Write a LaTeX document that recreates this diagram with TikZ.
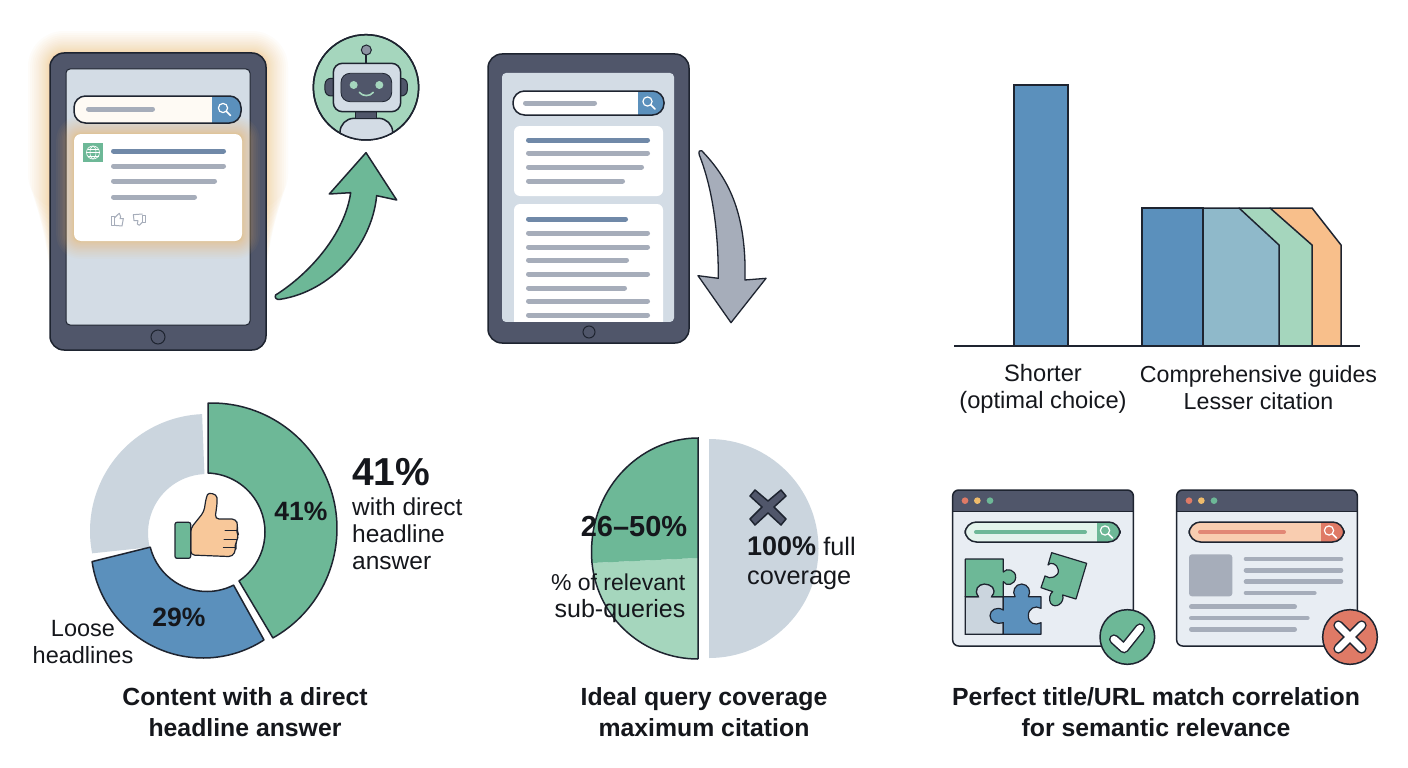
\documentclass[tikz,border=0pt]{standalone}
\usepackage{fontspec}
\setmainfont{Liberation Sans}
\usetikzlibrary{calc}
\definecolor{bezel}{HTML}{50566A}
\definecolor{ink}{HTML}{1E2430}
\definecolor{screen}{HTML}{D3DCE5}
\definecolor{lgrey}{HTML}{A6ADBA}
\definecolor{lblue}{HTML}{7089A8}
\definecolor{mgreen}{HTML}{6DB897}
\definecolor{pgreen}{HTML}{A5D6BD}
\definecolor{mblue}{HTML}{5B90BC}
\definecolor{pblue}{HTML}{8FB9CA}
\definecolor{morange}{HTML}{F8BF8B}
\definecolor{halo}{HTML}{F5B660}
\definecolor{pale}{HTML}{CBD5DE}
\definecolor{skin}{HTML}{F8C89A}
\definecolor{winbg}{HTML}{E8EDF3}
\definecolor{mred}{HTML}{DF7A66}
\definecolor{lred}{HTML}{F9CDB0}
\definecolor{myel}{HTML}{EFBB6B}
\definecolor{mint}{HTML}{E3F3EC}
\definecolor{txt}{HTML}{15171C}
\tikzset{
  outl/.style={draw=ink,line width=1.5pt},
  gline/.style={line width=5pt,line cap=round,lgrey,shorten >=2.5pt,shorten <=2.5pt},
  bline/.style={line width=5pt,line cap=round,lblue,shorten >=2.5pt,shorten <=2.5pt},
  sline/.style={line width=1.2pt,white,line cap=round},
  lab/.style={text=txt,inner sep=0pt,align=center,font=\fontsize{23.5}{27}\selectfont},
  ttl/.style={text=txt,inner sep=0pt,align=center,font=\fontsize{24.8}{31}\selectfont\bfseries},
  big/.style={text=txt,inner sep=0pt,font=\fontsize{29}{33}\selectfont\bfseries},
  searchicon/.pic={\draw[sline] (-1.5,-1.5) circle (4.6); \draw[sline,line width=1.6pt] (1.8,1.8) -- (6,6);}
}
\newcommand\pillbar[7]{% x1 y1 x2 y2 xb fill btn
  \fill[#6,rounded corners=11.5pt] (#1,#2) rectangle (#3,#4);
  \begin{scope}
    \clip[rounded corners=11.5pt] (#1,#2) rectangle (#3,#4);
    \fill[#7] (#5,#2) rectangle (#3,#4);
  \end{scope}
  \draw[outl,rounded corners=11.5pt] (#1,#2) rectangle (#3,#4);
  \pic at ({#5+(#3-#5)/2-2},{(#2+#4)/2}) {searchicon};
}
\begin{document}
\begin{tikzpicture}[x=1pt,y=-1pt]
\useasboundingbox (0,0) rectangle (1408,768);
\fill[white] (0,0) rectangle (1408,768);

%% ---------- tablet 1 with glow
\foreach \g in {1,...,20}{
  \pgfmathsetmacro\off{\g*\g*0.055}
  \pgfmathsetmacro\low{300-\g*4.5}
  \fill[halo,opacity=0.035,rounded corners={(14+\off)*1pt}]
    ({50-\off},{53-\off}) rectangle ({266+\off},{\low});
}
\node[fill=bezel,draw=ink,line width=1.5pt,rounded corners=14pt,minimum width=216pt,minimum height=297pt,inner sep=0pt] (tabA) at (158,201.5) {};
\fill[screen,draw=ink,line width=1pt,rounded corners=4pt] (66,69) rectangle (250,325);
\fill[bezel,draw=ink,line width=1pt] (158,337) circle (7);
\foreach \g in {1,...,18}{
  \pgfmathsetmacro\off{\g*\g*0.055}
  \fill[halo,opacity=0.045,rounded corners={(6+\off)*1pt}]
    ({74-\off},{134-\off}) rectangle ({242+\off},{241+\off});
}
\pillbar{74}{96}{241}{123}{212}{white!88!halo!60!white}{mblue}
\draw[gline] (86,109) -- (155,109);
\node[fill=white,rounded corners=7pt,minimum width=168pt,minimum height=107pt,inner sep=0pt] (cardA) at (158,187.5) {};
\fill[mgreen] (83,143) rectangle (103,162);
\begin{scope}[white,line width=.6pt]
  \draw (93,152.5) circle (6.5);
  \draw (93,152.5) ellipse (3 and 6.5);
  \draw (86.5,152.5) -- (99.5,152.5);
  \draw (87.5,149) -- (98.5,149) (87.5,156) -- (98.5,156);
\end{scope}
\draw[bline] (111,151) -- (226,151);
\draw[gline] (111,166) -- (226,166);
\draw[gline] (111,181) -- (217,181);
\draw[gline] (111,197) -- (197,197);
\begin{scope}[shift={(30,20)},scale=1/3]
  \draw[lgrey,line width=1pt,line join=round] (245,590) rectangle (253,616);
  \draw[lgrey,line width=1pt,line join=round] (253,594) -- (263,584) -- (268,580) -- (272,590) -- (270,596) -- (280,596) -- (276,618) -- (253,616);
  \draw[lgrey,line width=1pt,line join=round] (338,586) rectangle (346,608);
  \draw[lgrey,line width=1pt,line join=round] (338,606) -- (328,616) -- (322,612) -- (324,602) -- (312,602) -- (310,584) -- (338,582);
\end{scope}

%% ---------- green arrow and robot
\begin{scope}[shift={(30,20)},scale=1/3]
  \fill[mgreen,draw=ink,line width=1.5pt,line join=round]
    (737,825) .. controls (840,760) and (945,640) .. (962,518)
    -- (898,522) -- (1008,398) -- (1100,540) -- (1040,527)
    .. controls (1025,680) and (900,815) .. (750,838)
    .. controls (738,840) and (733,832) .. (737,825) -- cycle;
  \fill[pgreen,draw=ink,line width=1.5pt] (1008,202) circle (158);
  \begin{scope}
    \clip (1008,202) circle (157);
    \fill[screen,draw=ink,line width=1.5pt,rounded corners=14pt] (930,395) -- (930,295) -- (1088,295) -- (1088,395) -- cycle;
  \end{scope}
  \draw[ink,line width=1.5pt] (1008,202) circle (158);
  \fill[bezel,draw=ink,line width=1pt] (978,270) rectangle (1040,295);
  \fill[bezel,draw=ink,line width=1pt,rounded corners=6pt] (885,175) rectangle (935,228);
  \fill[bezel,draw=ink,line width=1pt,rounded corners=6pt] (1085,175) rectangle (1132,228);
  \draw[ink,line width=1.5pt] (1008,105) -- (1008,130);
  \fill[lgrey!70!bezel,draw=ink,line width=1pt] (1009,90) circle (15);
  \fill[screen,draw=ink,line width=1.5pt,rounded corners=9pt] (910,130) rectangle (1112,275);
  \fill[bezel,draw=ink,line width=.8pt,rounded corners=9pt] (933,160) rectangle (1085,245);
  \fill[pgreen] (971,195) circle (12);
  \fill[pgreen] (1048,195) circle (12);
  \draw[pgreen,line width=1.6pt,line cap=round] (988,217) .. controls (998,230) and (1020,230) .. (1030,217);
\end{scope}

%% ---------- tablet 2
\node[fill=bezel,draw=ink,line width=1.5pt,rounded corners=14pt,minimum width=201pt,minimum height=289pt,inner sep=0pt] (tabB) at (588.5,198.5) {};
\fill[screen,rounded corners=4pt] (502,73) rectangle (674,322);
\pillbar{513}{91}{664}{115}{638}{white}{mblue}
\draw[gline] (523,103) -- (597,103);
\node[fill=white,rounded corners=6pt,minimum width=149pt,minimum height=70pt,inner sep=0pt] (cardB) at (588.5,161) {};
\fill[white,rounded corners=6pt] (514,204) rectangle (663,330);
\fill[bezel] (500,322) rectangle (678,331);
\draw[bline] (526,140) -- (650,140);
\draw[gline] (526,153) -- (650,153);
\draw[gline] (526,167) -- (644,167);
\draw[gline] (526,181) -- (625,181);
\draw[bline] (526,219) -- (628,219);
\draw[gline] (526,233) -- (650,233);
\draw[gline] (526,247) -- (650,247);
\draw[gline] (526,260) -- (629,260);
\draw[gline] (526,274) -- (650,274);
\draw[gline] (526,288) -- (627,288);
\draw[gline] (526,301) -- (650,301);
\draw[gline] (526,315) -- (650,315);
\fill[bezel,draw=ink,line width=1pt] (589,332) circle (6);
\begin{scope}[shift={(470,40)},scale=1/3]
  \fill[lgrey,draw=ink,line width=1.3pt,line join=round]
    (695,332) .. controls (770,410) and (830,510) .. (825,720)
    -- (888,715) -- (783,848) -- (684,707) -- (745,715)
    .. controls (745,560) and (725,440) .. (688,345)
    .. controls (684,335) and (690,328) .. (695,332) -- cycle;
\end{scope}

%% ---------- bar chart
\fill[mblue,draw=ink,line width=1.5pt] (1014,346) -- (1014,85) -- (1068,85) -- (1068,346) -- cycle;
\fill[morange,draw=ink,line width=1.5pt,line join=round] (1270,346) -- (1270,208) -- (1312,208) -- (1341,245) -- (1341,346) -- cycle;
\fill[pgreen,draw=ink,line width=1.5pt,line join=round] (1239,346) -- (1239,208) -- (1270,208) -- (1312,245) -- (1312,346) -- cycle;
\fill[pblue,draw=ink,line width=1.5pt,line join=round] (1203,346) -- (1203,208) -- (1239,208) -- (1279,245) -- (1279,346) -- cycle;
\fill[mblue,draw=ink,line width=1.5pt] (1142,346) rectangle (1203,208);
\draw[ink,line width=1.5pt] (954,346) -- (1360,346);
\node[lab,font=\fontsize{23.7}{27}\selectfont] (lblShort) at (1043,389) {Shorter\\(optimal choice)};
\node[lab,font=\fontsize{23.2}{27}\selectfont] (lblLong) at (1258.5,388) {Comprehensive guides\\Lesser citation};

%% ---------- donut
\fill[pale] ([shift={(207,531)}]169:117) arc (169:267.6:117)
  -- ([shift={(207,533)}]-92.5:59) arc (-92.5:-194:59) -- cycle;
\fill[mgreen,draw=ink,line width=1.5pt,line join=round] ([shift={(211.5,528.5)}]-91.6:125.5) arc (-91.6:60.7:125.5)
  -- ([shift={(206,532)}]56:59) arc (56:-88:59) -- cycle;
\fill[mblue,draw=ink,line width=1.5pt,line join=round] ([shift={(203,546)}]172:112) arc (172:57:112)
  -- ([shift={(207,533)}]63:58.5) arc (63:166:58.5) -- cycle;
\begin{scope}[shift={(80,395)},scale=1/3]
  \fill[skin,draw=ink,line width=1.2pt,line join=round,rounded corners=4pt]
    (332,400) -- (372,350) -- (378,310) .. controls (385,292) and (410,295) .. (412,320)
    -- (405,372) -- (468,372) -- (474,392) -- (470,408) -- (476,420) -- (470,438) -- (466,450) -- (468,462) -- (458,485) -- (332,480) -- cycle;
  \draw[ink,line width=1pt,line cap=round] (470,405) -- (435,405) (470,432) -- (432,432) (464,458) -- (430,458);
  \fill[mgreen,draw=ink,line width=1.2pt,rounded corners=2pt] (285,382) rectangle (332,490);
\end{scope}
\node[big,font=\fontsize{26.5}{30}\selectfont\bfseries] (d41) at (301,511) {41\%};
\node[big,font=\fontsize{26.5}{30}\selectfont\bfseries] (d29) at (179,617) {29\%};
\node[big,anchor=west,font=\fontsize{39}{40}\selectfont\bfseries] (big41) at (352,472) {41\%};
\node[lab,anchor=west,align=left,font=\fontsize{24.5}{27}\selectfont] (lblDirect) at (352,533.5) {with direct\\headline\\answer};
\node[lab] (lblLoose) at (83,642.5) {Loose\\headlines};
\node[ttl] (ttlA) at (245,712.5) {Content with a direct\\headline answer};

%% ---------- pie
\fill[pgreen] (698,558) -- (592,563)
  .. controls (598,620) and (645,659) .. (698,659) -- cycle;
\fill[mgreen] (698,558) -- (592,563) .. controls (586,490) and (640,438) .. (698,438) -- cycle;
\draw[ink,line width=1.5pt] (698,659) .. controls (645,659) and (598,620) .. (592,563)
  .. controls (586,490) and (640,438) .. (698,438) -- (698,659);
\fill[pale] (709,439) arc (-90:90:109.5) -- cycle;
\draw[ink,line width=1.5pt,fill=bezel,line join=round]
  (768,501) -- (781,490) -- (786,496) -- (774,507) -- (786,519) -- (781,525) -- (768,513) -- (755,525) -- (750,519) -- (762,507) -- (750,496) -- (755,490) -- cycle;
\node[big] (pieNum) at (634,527) {26–50\%};
\node[lab,align=right,anchor=east] (pieSub) at (685.5,598) {{\fontsize{23}{27}\selectfont \% of relevant}\\{\fontsize{25}{27}\selectfont sub-queries}};
\node[lab,align=left,anchor=west,font=\fontsize{25.3}{28.5}\selectfont] (pieFull) at (747,563) {\textbf{\fontsize{27}{28.5}\selectfont 100\%} full\\coverage};
\node[ttl] (ttlB) at (704,712.5) {Ideal query coverage\\maximum citation};

%% ---------- browser windows
\begin{scope}[shift={(940,480)},scale=1/3]
  \foreach \ox in {0,672}{
    \begin{scope}[shift={(\ox,0)}]
    \fill[winbg,rounded corners=6pt] (38,30) rectangle (580,498);
    \begin{scope}
      \clip[rounded corners=6pt] (38,30) rectangle (580,498);
      \fill[bezel] (38,30) rectangle (580,93);
    \end{scope}
    \draw[ink,line width=1pt] (38,93) -- (580,93);
    \draw[outl,rounded corners=6pt] (38,30) rectangle (580,498);
    \fill[mred] (75,62) circle (10);
    \fill[myel] (112,62) circle (10);
    \fill[mgreen] (150,62) circle (10);
    \end{scope}
  }
\end{scope}
\pillbar{965}{522}{1120}{542}{1097}{mint}{mgreen}
\draw[line width=4pt,line cap=round,mgreen] (976,532) -- (1085,532);
\pillbar{1189}{522}{1344}{542}{1321}{lred}{mred}
\draw[line width=4pt,line cap=round,mred!90!white] (1200,532) -- (1284,532);
\begin{scope}[shift={(940,480)},scale=1/3]
  \fill[pale,draw=ink,line width=1.2pt] (76,350) -- (115,350)
     .. controls (100,330) and (115,312) .. (133,312) .. controls (150,312) and (175,325) .. (155,350)
     -- (190,350) -- (190,463) -- (76,463) -- cycle;
  \fill[mgreen,draw=ink,line width=1.2pt,line join=round] (76,237) -- (190,237) -- (190,276)
     .. controls (200,262) and (228,270) .. (227,292) .. controls (226,315) and (198,320) .. (190,305)
     -- (190,350) -- (155,350) .. controls (175,325) and (150,312) .. (133,312)
     .. controls (115,312) and (100,330) .. (115,350) -- (76,350) -- cycle;
  \fill[mblue,draw=ink,line width=1.2pt,line join=round] (190,350) -- (225,350)
     .. controls (215,335) and (225,312) .. (245,312) .. controls (265,312) and (275,335) .. (265,350)
     -- (303,350) -- (303,385) .. controls (285,375) and (265,385) .. (265,407)
     .. controls (265,430) and (285,438) .. (303,428) -- (303,463) -- (190,463) -- (190,428)
     .. controls (170,435) and (150,425) .. (150,407) .. controls (150,390) and (170,378) .. (190,390) -- cycle;
  \fill[mgreen,draw=ink,line width=1.2pt,line join=round] (335,218) -- (440,250) -- (408,357) -- (368,345)
     .. controls (375,370) and (345,388) .. (332,370) .. controls (325,358) and (330,340) .. (338,335)
     -- (303,323) -- (315,288) .. controls (330,300) and (358,290) .. (355,270)
     .. controls (352,250) and (330,245) .. (324,255) -- cycle;
  \fill[mgreen,draw=ink,line width=1.5pt] (562,471) circle (82);
  \draw[ink,line width=10pt,line cap=round,line join=round] (522,478) -- (552,505) -- (600,445);
  \draw[white,line width=7pt,line cap=round,line join=round] (522,478) -- (552,505) -- (600,445);
  \fill[lgrey,rounded corners=3pt] (747,223) rectangle (877,349);
  \foreach \a/\b/\c in {911/1210/237,911/1210/271,911/1210/305,911/1130/339,747/1071/380,747/1109/414,747/1071/448}{
    \draw[lgrey,line width=4.6pt,line cap=round,shorten >=2.3pt,shorten <=2.3pt] (\a,\c) -- (\b,\c);
  }
  \fill[mred,draw=ink,line width=1.5pt] (1230,471) circle (82);
  \draw[ink,line width=10pt,line cap=round] (1195,436) -- (1265,506) (1265,436) -- (1195,506);
  \draw[white,line width=7pt,line cap=round] (1195,436) -- (1265,506) (1265,436) -- (1195,506);
\end{scope}
\node[ttl] (ttlC) at (1156,712.5) {Perfect title/URL match correlation\\for semantic relevance};
\end{tikzpicture}
\end{document}
